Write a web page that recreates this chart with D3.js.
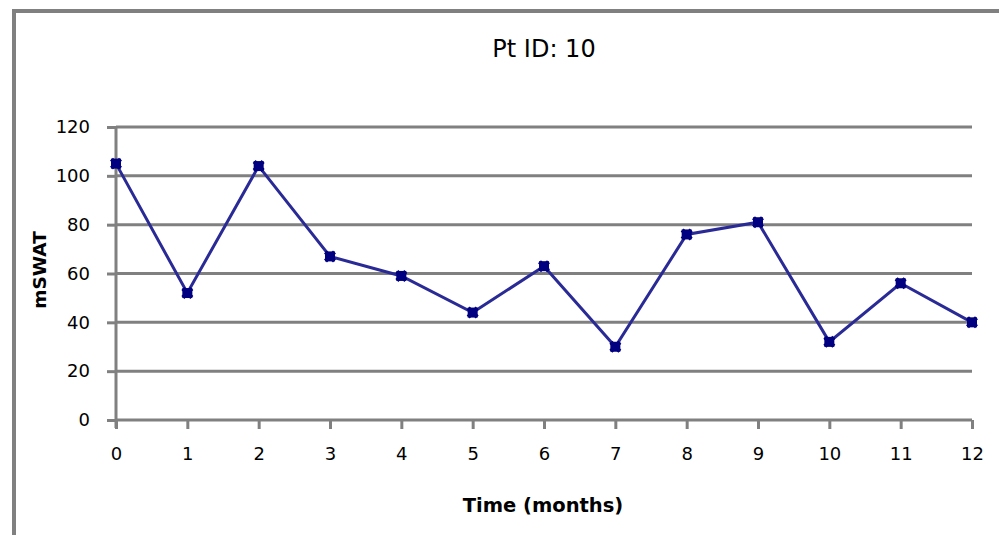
<!DOCTYPE html>
<html>
<head>
<meta charset="utf-8">
<script src="https://cdn.jsdelivr.net/npm/d3@7"></script>
<style>
  html, body { margin: 0; padding: 0; background: #fff; }
  svg { display: block; font-family: "DejaVu Sans", sans-serif; }
</style>
</head>
<body>
<svg id="chart" width="999" height="535"></svg>
<script>
// Monthly mSWAT scores for one patient
const months = [0, 1, 2, 3, 4, 5, 6, 7, 8, 9, 10, 11, 12];
const mswat = [105, 52, 104, 67, 59, 44, 63, 30, 76, 81, 32, 56, 40];
const yTicks = [0, 20, 40, 60, 80, 100, 120];
const chartTitle = "Pt ID: 10";
const xTitle = "Time (months)";
const yTitle = "mSWAT";

const svg = d3.select("#chart");
const gray = "#808080";
const navy = "#000080";

// outer frame (top and left edges visible)
svg.append("path")
  .attr("d", "M14,535 L14,11 L999,11")
  .attr("fill", "none")
  .attr("stroke", gray)
  .attr("stroke-width", 4);

const margin = { left: 116, right: 972, top: 127, bottom: 420 };

const x = d3.scaleLinear().domain([0, 12]).range([margin.left, margin.right]);
const y = d3.scaleLinear().domain([0, 120]).range([margin.bottom, margin.top]);

// horizontal gridlines
svg.append("g")
  .selectAll("line")
  .data(yTicks.filter(d => d > 0))
  .join("line")
  .attr("x1", margin.left).attr("x2", margin.right)
  .attr("y1", d => y(d)).attr("y2", d => y(d))
  .attr("stroke", gray).attr("stroke-width", 3);

// y axis
const yAxis = svg.append("g")
  .attr("transform", `translate(${margin.left},0)`)
  .call(d3.axisLeft(y).tickValues(yTicks).tickSize(9).tickPadding(17));
yAxis.select(".domain").attr("stroke", gray).attr("stroke-width", 3)
  .attr("d", `M0,${margin.bottom + 8}V${margin.top}`);
yAxis.selectAll(".tick line").attr("stroke", gray).attr("stroke-width", 3);
yAxis.selectAll(".tick text")
  .attr("font-size", 18).attr("fill", "#000")
  .attr("font-family", "DejaVu Sans");

// x axis
const xAxis = svg.append("g")
  .attr("transform", `translate(0,${margin.bottom})`)
  .call(d3.axisBottom(x).tickValues(months).tickSize(9).tickPadding(18));
xAxis.select(".domain").attr("stroke", gray).attr("stroke-width", 3)
  .attr("d", `M${margin.left},0H${margin.right}`);
xAxis.selectAll(".tick line").attr("stroke", gray).attr("stroke-width", 3);
xAxis.selectAll(".tick text")
  .attr("font-size", 18).attr("fill", "#000")
  .attr("font-family", "DejaVu Sans");

// data line
const line = d3.line()
  .x((d, i) => x(months[i]))
  .y(d => y(d));

svg.append("path")
  .datum(mswat)
  .attr("d", line)
  .attr("fill", "none")
  .attr("stroke", "#2a2a96")
  .attr("stroke-width", 3);

// markers
const marker = d3.symbol().type(d3.symbolCross).size(90);
svg.append("g")
  .selectAll("path")
  .data(mswat)
  .join("path")
  .attr("d", marker)
  .attr("transform", (d, i) => `translate(${x(months[i])},${y(d)}) rotate(45)`)
  .attr("fill", navy);
svg.append("g")
  .selectAll("rect")
  .data(mswat)
  .join("rect")
  .attr("x", (d, i) => x(months[i]) - 5)
  .attr("y", d => y(d) - 5)
  .attr("width", 10).attr("height", 10)
  .attr("fill", navy);

// titles
svg.append("text")
  .attr("x", 544).attr("y", 57)
  .attr("text-anchor", "middle")
  .attr("font-size", 24)
  .text(chartTitle);

svg.append("text")
  .attr("x", 543).attr("y", 512)
  .attr("text-anchor", "middle")
  .attr("font-size", 19.5)
  .attr("font-weight", "bold")
  .text(xTitle);

svg.append("text")
  .attr("transform", "translate(46,270) rotate(-90)")
  .attr("text-anchor", "middle")
  .attr("font-size", 18.5)
  .attr("font-weight", "bold")
  .text(yTitle);
</script>
</body>
</html>
